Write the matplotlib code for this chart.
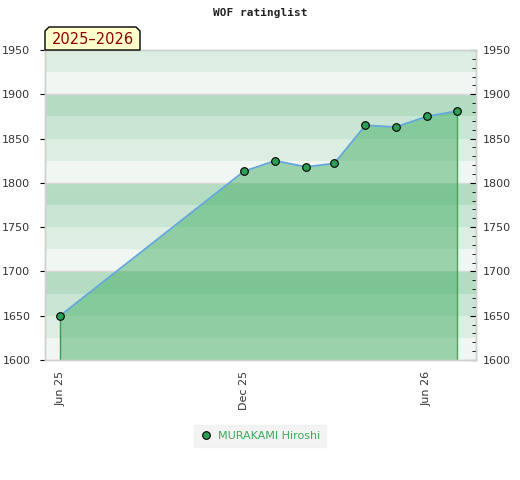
import numpy as np
import pandas as pd
import matplotlib
matplotlib.use('Agg')
from matplotlib import pyplot as plt
import matplotlib.dates as mdates
from matplotlib.patches import Polygon
from matplotlib.ticker import MultipleLocator

dates = pd.to_datetime(['2025-06-01', '2025-12-01', '2026-01-01', '2026-02-01',
                        '2026-03-01', '2026-04-01', '2026-05-01', '2026-06-01',
                        '2026-07-01'])
ratings = [1650, 1813, 1825, 1818, 1822, 1865, 1863, 1875, 1881]
player = 'MURAKAMI Hiroshi'
season = '2025\u20132026'
x_ticks = pd.to_datetime(['2025-06-01', '2025-12-01', '2026-06-01'])

fig = plt.figure(figsize=(5.2, 4.8), dpi=100)
ax = fig.add_axes([45 / 520, 1 - 360 / 480, 431 / 520, 310 / 480])

# background bands every 25 points
band_colors = {75: '#b3dcc3', 50: '#c8e6d3', 25: '#dcede2', 0: '#f0f7f2'}
for lo in range(1600, 1950, 25):
    ax.axhspan(lo, lo + 25, color=band_colors[lo % 100], lw=0, zorder=0)
for y in (1700, 1800, 1900):
    ax.axhline(y, color='#d8d8d8', lw=1, zorder=0.5)

ax.fill_between(dates, ratings, 1600, color='#3dac5e', alpha=0.48, lw=0, zorder=1)
ax.vlines([dates[0], dates[-1]], 1600, [ratings[0], ratings[-1]],
          colors=['#3a9a5a', '#30b050'], lw=1, zorder=2)
ax.plot(dates, ratings, color='#62a6dc', lw=1.3, zorder=3)
ax.plot(dates, ratings, 'o', ms=5.5, mfc='#2e9e55', mec='black', mew=0.8,
        zorder=4, label=player)

ax.set_ylim(1600, 1950)
ax.set_xlim(dates[0] - pd.Timedelta(days=15), x_ticks[-1] + pd.Timedelta(days=49))
ax.set_xticks(x_ticks)
ax.xaxis.set_major_formatter(mdates.DateFormatter('%b %y'))
ax.tick_params(axis='x', rotation=90, length=0, labelsize=8, labelcolor='#333333', pad=8)

ax.yaxis.set_major_locator(MultipleLocator(50))
ax.tick_params(axis='y', which='both', left=False, labelsize=8,
               labelcolor='#333333', pad=7)

# right axis with inward ticks
ax2 = ax.twinx()
ax2.set_ylim(1600, 1950)
ax2.yaxis.set_major_locator(MultipleLocator(50))
ax2.yaxis.set_minor_locator(MultipleLocator(10))
ax2.tick_params(axis='y', which='both', direction='in', labelsize=8,
                labelcolor='#333333', color='black', pad=5)
ax2.tick_params(axis='y', which='major', length=4)
ax2.tick_params(axis='y', which='minor', length=3)

for a in (ax, ax2):
    for s in a.spines.values():
        s.set_color('#d0d0d0')
        s.set_linewidth(1)

fig.text(0.5, 1 - 13 / 480, 'WOF ratinglist', ha='center', va='center',
         family='DejaVu Sans Mono', weight='bold', size=8, color='#222222')

# season label box with cut corners
x0, x1, y0, y1, c = 45, 140, 50, 27, 4
pts = [(x0, y0), (x0, y1 + c), (x0 + c, y1), (x1 - c, y1), (x1, y1 + c), (x1, y0)]
pts = [(px / 520, 1 - py / 480) for px, py in pts]
fig.patches.append(Polygon(pts, closed=True, transform=fig.transFigure,
                           facecolor='#ffffcc', edgecolor='black', lw=1, zorder=5))
fig.text((x0 + x1) / 2 / 520, 1 - 39.5 / 480, season, ha='center', va='center',
         size=10.5, color='#8b0000', zorder=6)

handles, labels = ax.get_legend_handles_labels()
leg = fig.legend(handles, labels, loc='center', bbox_to_anchor=(260 / 520, 1 - 436 / 480),
                 frameon=True, fancybox=False, facecolor='#f0f0f0', edgecolor='#f0f0f0',
                 fontsize=8, handlelength=1, handletextpad=0.6, borderpad=0.5)
for t in leg.get_texts():
    t.set_color('#3aaa5a')

fig.savefig('out.png', dpi=100)
